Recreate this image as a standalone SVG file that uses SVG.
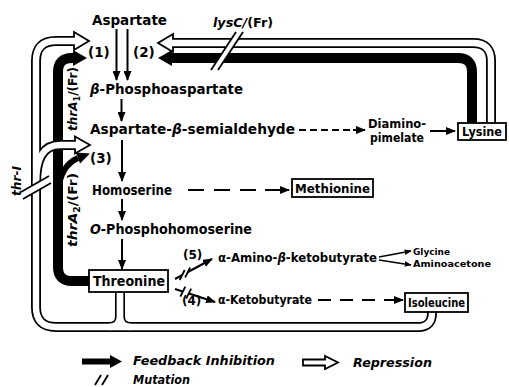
<svg xmlns="http://www.w3.org/2000/svg" width="509" height="387" viewBox="0 0 509 387">
<style>
text{font-family:"DejaVu Sans","Liberation Sans",sans-serif;font-weight:bold;fill:#000}
.f13{font-size:13.5px}
.f12{font-size:12px}
.f11{font-size:11.5px}
.f9{font-size:8.8px}
.it{font-style:italic}
.ln{fill:none;stroke:#000;stroke-width:2}
.ln2{fill:none;stroke:#000;stroke-width:1.6}
.fb{fill:none;stroke:#000;stroke-width:10}
.fbh{fill:#000}
.wo{fill:none;stroke:#000;stroke-width:10}
.wi{fill:none;stroke:#fff;stroke-width:6.4}
.hd{fill:#fff;stroke:#000;stroke-width:1.8}
.box{fill:#fff;stroke:#000;stroke-width:1.8}
.sl{fill:none;stroke:#000;stroke-width:1.8}
.mask{fill:#fff;stroke:none}
</style>
<defs>
<marker id="ah" viewBox="0 0 10 8" refX="9" refY="4" markerWidth="10" markerHeight="8" markerUnits="userSpaceOnUse" orient="auto"><path d="M0,0 L10,4 L0,8 Z" fill="#000"/></marker>
<marker id="ahs" viewBox="0 0 10 8" refX="9" refY="4" markerWidth="7" markerHeight="6" markerUnits="userSpaceOnUse" orient="auto"><path d="M0,0 L10,4 L0,8 Z" fill="#000"/></marker>
<path id="wLoop" d="M432 312 L432 313 Q432 327 418 327 L56 327 Q36 327 36 307 L36 61 Q36 41 56 41 L76 41"/>
<path id="wStubL" d="M120 292 L120 316 Q120 327 109 327"/>
<path id="wStubR" d="M120 292 L120 316 Q120 327 131 327"/>
<path id="wBr3" d="M36 184 C36 160 42 145 60 145 L77 145"/>
<path id="wTop" d="M171 43 L473 43 Q491 43 491 61 L491 123"/>
</defs>
<rect width="509" height="387" fill="#fff"/>

<g id="connectors">
  <!-- pathway arrows -->
  <line class="ln" x1="116.5" y1="29" x2="116.5" y2="80" marker-end="url(#ah)"/>
  <line class="ln" x1="127.5" y1="29" x2="127.5" y2="80" marker-end="url(#ah)"/>
  <line class="ln" x1="121.5" y1="99" x2="121.5" y2="121" marker-end="url(#ah)"/>
  <line class="ln" x1="122" y1="140" x2="122" y2="181" marker-end="url(#ah)"/>
  <line class="ln" x1="122" y1="199" x2="122" y2="220" marker-end="url(#ah)"/>
  <line class="ln" x1="122" y1="239" x2="122" y2="269" marker-end="url(#ah)"/>
  <!-- dashed arrows -->
  <line class="ln" x1="299" y1="130" x2="351" y2="130" stroke-dasharray="7 4"/>
  <line class="ln" x1="353" y1="130" x2="365" y2="130" marker-end="url(#ah)"/>
  <line class="ln" x1="430" y1="131" x2="455" y2="131" marker-end="url(#ah)"/>
  <line class="ln" x1="188" y1="190" x2="257" y2="190" stroke-dasharray="16 10"/>
  <line class="ln" x1="265" y1="190" x2="289" y2="190" marker-end="url(#ah)"/>
  <line class="ln" x1="318" y1="300" x2="376" y2="300" stroke-dasharray="13 9"/>
  <line class="ln" x1="384" y1="300" x2="403" y2="300" marker-end="url(#ah)"/>
  <!-- (5) and (4) -->
  <line class="ln" x1="175" y1="279" x2="212" y2="259" marker-end="url(#ah)"/>
  <line class="ln" x1="175" y1="289" x2="215" y2="302" marker-end="url(#ah)"/>
  <line class="ln2" x1="379" y1="257" x2="411" y2="251" marker-end="url(#ahs)"/>
  <line class="ln2" x1="379" y1="260" x2="411" y2="265" marker-end="url(#ahs)"/>
  <polygon class="mask" points="180,280 185,270 190,268 185,278"/>
  <line class="sl" x1="179.7" y1="280" x2="184.7" y2="270"/>
  <line class="sl" x1="185.1" y1="277.5" x2="190.1" y2="267.5"/>
  <polygon class="mask" points="180.5,296.5 185.5,286.5 191,288.5 186,298.5"/>
  <line class="sl" x1="180.3" y1="296.6" x2="185.3" y2="286.6"/>
  <line class="sl" x1="186.2" y1="298.6" x2="191.2" y2="288.6"/>

  <!-- feedback inhibition (black) -->
  <path class="fb" d="M89 281 L72 281 Q58 281 58 267 L58 72 Q58 58 72 58 L75 58"/>
  <polygon class="fbh" points="73,50 87,58 73,66"/>
  <path d="M58 192 Q60 166 78 158" fill="none" stroke="#000" stroke-width="6"/>
  <polygon class="fbh" points="90,153.5 80.1,163.6 75.9,152.4"/>
  <path class="fb" d="M171 58 L458 58 Q472 58 472 72 L472 123"/>
  <polygon class="fbh" points="172,50 158,58 172,66"/>

  <!-- repression (hollow) -->
  <use href="#wLoop" class="wo"/>
  <use href="#wStubL" class="wo"/>
  <use href="#wStubR" class="wo"/>
  <use href="#wBr3" class="wo"/>
  <use href="#wTop" class="wo"/>
  <polygon class="hd" points="74,32 89,41 74,50"/>
  <polygon class="hd" points="75,136.5 90,145 75,153.5"/>
  <polygon class="hd" points="173,34 158,43 173,52"/>
  <use href="#wLoop" class="wi"/>
  <use href="#wStubL" class="wi"/>
  <use href="#wStubR" class="wi"/>
  <use href="#wBr3" class="wi"/>
  <use href="#wTop" class="wi"/>

  <!-- mutation marks -->
  <polygon class="mask" points="236,32 243,32 218,70 211,70"/>
  <line class="sl" x1="236" y1="32" x2="211" y2="70"/>
  <line class="sl" x1="243" y1="32" x2="218" y2="70"/>
  <polygon class="mask" points="21,192 49,176 51,183 23,199"/>
  <line class="sl" x1="21" y1="192" x2="49" y2="176"/>
  <line class="sl" x1="23" y1="199" x2="51" y2="183"/>
</g>

<g id="aspartate"><text class="f13" x="92" y="25" textLength="75" lengthAdjust="spacingAndGlyphs">Aspartate</text></g>
<g id="step1"><text class="f13" x="88" y="56.5">(1)</text></g>
<g id="step2"><text class="f13" x="133" y="56.5">(2)</text></g>
<g id="lysC"><text class="f12" x="213" y="27" textLength="60" lengthAdjust="spacingAndGlyphs"><tspan class="it">lysC/</tspan>(Fr)</text></g>
<g id="phosphoaspartate"><text class="f13" x="90" y="94" textLength="153" lengthAdjust="spacingAndGlyphs"><tspan class="it">β</tspan>-Phosphoaspartate</text></g>
<g id="semialdehyde"><text class="f13" x="90" y="134" textLength="205" lengthAdjust="spacingAndGlyphs">Aspartate-<tspan class="it">β</tspan>-semialdehyde</text></g>
<g id="diaminopimelate">
  <text class="f12" x="368" y="128" textLength="58" lengthAdjust="spacingAndGlyphs">Diamino-</text>
  <text class="f12" x="370" y="142" textLength="54" lengthAdjust="spacingAndGlyphs">pimelate</text>
</g>
<g id="lysine"><rect class="box" x="458" y="123" width="48" height="17"/><text class="f11" x="462" y="136" textLength="40" lengthAdjust="spacingAndGlyphs">Lysine</text></g>
<g id="step3"><text class="f13" x="90" y="163">(3)</text></g>
<g id="homoserine"><text class="f13" x="92" y="195" textLength="80" lengthAdjust="spacingAndGlyphs">Homoserine</text></g>
<g id="methionine"><rect class="box" x="292" y="179" width="81" height="18"/><text class="f12" x="295" y="193" textLength="75" lengthAdjust="spacingAndGlyphs">Methionine</text></g>
<g id="phosphohomoserine"><text class="f13" x="90" y="234" textLength="162" lengthAdjust="spacingAndGlyphs"><tspan class="it">O</tspan>-Phosphohomoserine</text></g>
<g id="threonine"><rect class="box" x="89" y="270" width="79" height="22"/><text class="f13" x="93" y="286" textLength="72" lengthAdjust="spacingAndGlyphs">Threonine</text></g>
<g id="step5"><text class="f12" x="183" y="259">(5)</text></g>
<g id="aminoketobutyrate"><text class="f12" x="218" y="262" textLength="159" lengthAdjust="spacingAndGlyphs">α-Amino-<tspan class="it">β</tspan>-ketobutyrate</text></g>
<g id="glycine"><text class="f9" x="413" y="255" textLength="37" lengthAdjust="spacingAndGlyphs">Glycine</text></g>
<g id="aminoacetone"><text class="f9" x="413" y="267" textLength="78" lengthAdjust="spacingAndGlyphs">Aminoacetone</text></g>
<g id="step4"><text class="f12" x="182" y="305">(4)</text></g>
<g id="ketobutyrate"><text class="f12" x="218" y="304" textLength="94" lengthAdjust="spacingAndGlyphs">α-Ketobutyrate</text></g>
<g id="isoleucine"><rect class="box" x="405" y="293" width="63" height="19"/><text class="f11" x="408" y="307" textLength="57" lengthAdjust="spacingAndGlyphs">Isoleucine</text></g>
<g id="thrA1"><text class="f12" transform="translate(77,131) rotate(-90)" textLength="64" lengthAdjust="spacingAndGlyphs"><tspan class="it">thrA</tspan><tspan font-size="8" dy="3">1</tspan><tspan dy="-3">/(Fr)</tspan></text></g>
<g id="thrA2"><text class="f12" transform="translate(77,247) rotate(-90)" textLength="74" lengthAdjust="spacingAndGlyphs"><tspan class="it">thrA</tspan><tspan font-size="8" dy="3">2</tspan><tspan dy="-3">/(Fr)</tspan></text></g>
<g id="thrI"><text class="f12 it" transform="translate(21,196) rotate(-90)" textLength="30" lengthAdjust="spacingAndGlyphs">thr-I</text></g>

<g id="legend">
  <polygon fill="#000" points="82,358.5 110,358.5 110,355 122,361.5 110,368 110,364.5 82,364.5"/>
  <text class="f12 it" x="133" y="365" textLength="142" lengthAdjust="spacingAndGlyphs">Feedback  Inhibition</text>
  <polygon class="hd" points="303,359.5 325,359.5 325,356 338,362.5 325,369 325,365.5 303,365.5"/>
  <text class="f12 it" x="353" y="367" textLength="79" lengthAdjust="spacingAndGlyphs">Repression</text>
  <line class="sl" x1="95" y1="385" x2="101" y2="375"/>
  <line class="sl" x1="102" y1="385" x2="108" y2="375"/>
  <text class="f12 it" x="133" y="383.5" textLength="57" lengthAdjust="spacingAndGlyphs">Mutation</text>
</g>
</svg>
